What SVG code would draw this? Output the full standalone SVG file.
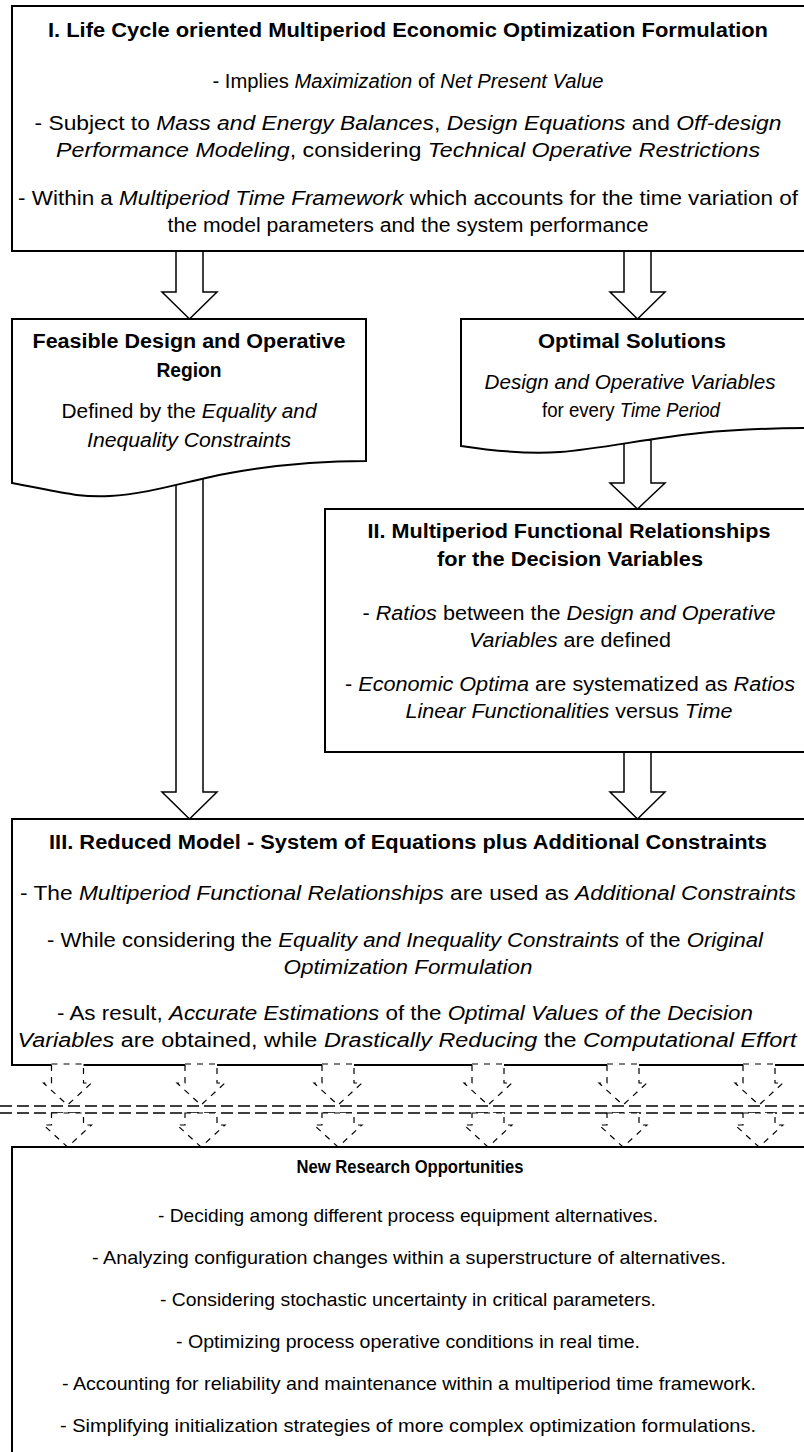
<svg xmlns="http://www.w3.org/2000/svg" width="804" height="1452" viewBox="0 0 804 1452">
<style>
.t{font-family:"Liberation Sans",Arial,sans-serif;font-size:20px;text-anchor:middle;fill:#000}
.s{font-size:19px}
.b{font-weight:bold}
.i{font-style:italic}
.box{fill:#fff;stroke:#000;stroke-width:2}
.arr{fill:#fff;stroke:#000;stroke-width:1.5;stroke-linejoin:miter}
.darr{fill:#fff;stroke:#000;stroke-width:1.2;stroke-dasharray:6 6}
.dl{stroke:#000;stroke-width:1.3;stroke-dasharray:12 5;fill:none}
</style>
<rect width="804" height="1452" fill="#fff"/>
<g id="connectors">
<polygon class="arr" points="176,245 203,245 203,292 217,292 189.5,319 162,292 176,292"/>
<polygon class="arr" points="624,245 651,245 651,292 665,292 637.5,319 610,292 624,292"/>
<polygon class="arr" points="624,440 651,440 651,483 665,483 637.5,509 610,483 624,483"/>
<polygon class="arr" points="176,470 203,470 203,792 217,792 189.5,819 162,792 176,792"/>
<polygon class="arr" points="624,745 651,745 651,792 665,792 637.5,819 610,792 624,792"/>
</g>
<g id="node-I">
<rect class="box" x="12" y="6" width="800" height="245"/>
<text class="t b" x="408" y="37" textLength="720" lengthAdjust="spacingAndGlyphs">I. Life Cycle oriented Multiperiod Economic Optimization Formulation</text>
<text class="t" x="408" y="88" textLength="391" lengthAdjust="spacingAndGlyphs">- Implies <tspan class="i">Maximization</tspan> of <tspan class="i">Net Present Value</tspan></text>
<text class="t" x="408" y="130" textLength="747" lengthAdjust="spacingAndGlyphs">- Subject to <tspan class="i">Mass and Energy Balances</tspan>, <tspan class="i">Design Equations</tspan> and <tspan class="i">Off-design</tspan></text>
<text class="t" x="408" y="157" textLength="704" lengthAdjust="spacingAndGlyphs"><tspan class="i">Performance Modeling</tspan>, considering <tspan class="i">Technical Operative Restrictions</tspan></text>
<text class="t" x="408" y="205" textLength="780" lengthAdjust="spacingAndGlyphs">- Within a <tspan class="i">Multiperiod Time Framework</tspan> which accounts for the time variation of</text>
<text class="t" x="408" y="232" textLength="481" lengthAdjust="spacingAndGlyphs">the model parameters and the system performance</text>
</g>
<g id="node-feasible">
<path class="box" d="M12,319 H366 V461 C320,461 280,464 230,473 C190,480 150,494 110,496 C80,498 60,492 12,483 Z"/>
<text class="t b" x="189" y="348" textLength="313" lengthAdjust="spacingAndGlyphs">Feasible Design and Operative</text>
<text class="t b" x="189" y="377" textLength="65" lengthAdjust="spacingAndGlyphs">Region</text>
<text class="t" x="189" y="418" textLength="255" lengthAdjust="spacingAndGlyphs">Defined by the <tspan class="i">Equality and</tspan></text>
<text class="t" x="189" y="447" textLength="204" lengthAdjust="spacingAndGlyphs"><tspan class="i">Inequality Constraints</tspan></text>
</g>
<g id="node-optimal">
<path class="box" d="M461,319 H812 V428 C780,428 740,429 700,433 C650,438 600,449 560,452 C530,454 500,452 461,446 Z"/>
<text class="t b" x="632" y="348" textLength="188" lengthAdjust="spacingAndGlyphs">Optimal Solutions</text>
<text class="t" x="630" y="389" textLength="291" lengthAdjust="spacingAndGlyphs"><tspan class="i">Design and Operative Variables</tspan></text>
<text class="t" x="631" y="417" textLength="178" lengthAdjust="spacingAndGlyphs">for every <tspan class="i">Time Period</tspan></text>
</g>
<g id="node-II">
<rect class="box" x="325" y="509" width="490" height="243"/>
<text class="t b" x="569" y="538" textLength="403" lengthAdjust="spacingAndGlyphs">II. Multiperiod Functional Relationships</text>
<text class="t b" x="570" y="566" textLength="266" lengthAdjust="spacingAndGlyphs">for the Decision Variables</text>
<text class="t" x="569" y="620" textLength="413" lengthAdjust="spacingAndGlyphs">- <tspan class="i">Ratios</tspan> between the <tspan class="i">Design and Operative</tspan></text>
<text class="t" x="570" y="647" textLength="202" lengthAdjust="spacingAndGlyphs"><tspan class="i">Variables</tspan> are defined</text>
<text class="t" x="570" y="691" textLength="450" lengthAdjust="spacingAndGlyphs">- <tspan class="i">Economic Optima</tspan> are systematized as <tspan class="i">Ratios</tspan></text>
<text class="t" x="569" y="718" textLength="327" lengthAdjust="spacingAndGlyphs"><tspan class="i">Linear Functionalities</tspan> versus <tspan class="i">Time</tspan></text>
</g>
<g id="node-III">
<rect class="box" x="12" y="819" width="800" height="246"/>
<text class="t b" x="408" y="849" textLength="718" lengthAdjust="spacingAndGlyphs">III. Reduced Model - System of Equations plus Additional Constraints</text>
<text class="t" x="408" y="900" textLength="776" lengthAdjust="spacingAndGlyphs">- The <tspan class="i">Multiperiod Functional Relationships</tspan> are used as <tspan class="i">Additional Constraints</tspan></text>
<text class="t" x="405" y="947" textLength="716" lengthAdjust="spacingAndGlyphs">- While considering the <tspan class="i">Equality and Inequality Constraints</tspan> of the <tspan class="i">Original</tspan></text>
<text class="t" x="408" y="974" textLength="249" lengthAdjust="spacingAndGlyphs"><tspan class="i">Optimization Formulation</tspan></text>
<text class="t" x="405" y="1020" textLength="696" lengthAdjust="spacingAndGlyphs">- As result, <tspan class="i">Accurate Estimations</tspan> of the <tspan class="i">Optimal Values of the Decision</tspan></text>
<text class="t" x="407" y="1047" textLength="779" lengthAdjust="spacingAndGlyphs"><tspan class="i">Variables</tspan> are obtained, while <tspan class="i">Drastically Reducing</tspan> the <tspan class="i">Computational Effort</tspan></text>
</g>
<g id="separator">
<line class="dl" x1="0" y1="1106" x2="804" y2="1106"/>
<line class="dl" x1="0" y1="1113" x2="804" y2="1113"/>
<g id="dashed-arrows">
<polygon class="darr" points="51.5,1064 83.5,1064 83.5,1083 91.5,1083 67.5,1105 43.5,1083 51.5,1083"/>
<polygon class="darr" points="51.5,1113 83.5,1113 83.5,1125 91.5,1125 67.5,1147 43.5,1125 51.5,1125"/>
<polygon class="darr" points="185,1064 217,1064 217,1083 225,1083 201,1105 177,1083 185,1083"/>
<polygon class="darr" points="185,1113 217,1113 217,1125 225,1125 201,1147 177,1125 185,1125"/>
<polygon class="darr" points="322,1064 354,1064 354,1083 362,1083 338,1105 314,1083 322,1083"/>
<polygon class="darr" points="322,1113 354,1113 354,1125 362,1125 338,1147 314,1125 322,1125"/>
<polygon class="darr" points="472,1064 504,1064 504,1083 512,1083 488,1105 464,1083 472,1083"/>
<polygon class="darr" points="472,1113 504,1113 504,1125 512,1125 488,1147 464,1125 472,1125"/>
<polygon class="darr" points="607,1064 639,1064 639,1083 647,1083 623,1105 599,1083 607,1083"/>
<polygon class="darr" points="607,1113 639,1113 639,1125 647,1125 623,1147 599,1125 607,1125"/>
<polygon class="darr" points="743,1064 775,1064 775,1083 783,1083 759,1105 735,1083 743,1083"/>
<polygon class="darr" points="743,1113 775,1113 775,1125 783,1125 759,1147 735,1125 743,1125"/>
</g>
</g>
<g id="node-IV">
<rect class="box" x="12" y="1147" width="800" height="320"/>
<text class="t b s" x="410" y="1173" textLength="227" lengthAdjust="spacingAndGlyphs">New Research Opportunities</text>
<text class="t s" x="408" y="1222" textLength="500" lengthAdjust="spacingAndGlyphs">- Deciding among different process equipment alternatives.</text>
<text class="t s" x="409" y="1264" textLength="634" lengthAdjust="spacingAndGlyphs">- Analyzing configuration changes within a superstructure of alternatives.</text>
<text class="t s" x="408" y="1306" textLength="496" lengthAdjust="spacingAndGlyphs">- Considering stochastic uncertainty in critical parameters.</text>
<text class="t s" x="408" y="1348" textLength="464" lengthAdjust="spacingAndGlyphs">- Optimizing process operative conditions in real time.</text>
<text class="t s" x="409" y="1390" textLength="694" lengthAdjust="spacingAndGlyphs">- Accounting for reliability and maintenance within a multiperiod time framework.</text>
<text class="t s" x="408" y="1432" textLength="696" lengthAdjust="spacingAndGlyphs">- Simplifying initialization strategies of more complex optimization formulations.</text>
</g>
</svg>
